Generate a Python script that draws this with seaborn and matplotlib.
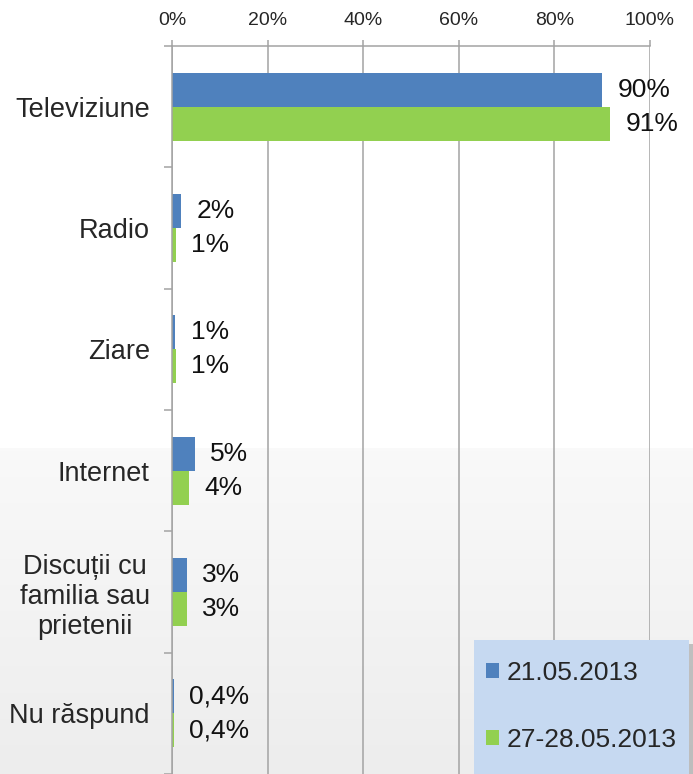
import matplotlib
matplotlib.use("Agg")
import numpy as np
import pandas as pd
import matplotlib.pyplot as plt
import seaborn as sns
from matplotlib.colors import LinearSegmentedColormap
from matplotlib.patches import Rectangle

# values (percent)
categories = ["Televiziune", "Radio", "Ziare", "Internet",
              "Discuții cu\nfamilia sau\nprietenii", "Nu răspund"]
series = ["21.05.2013", "27-28.05.2013"]
val_21 = [90, 1.9, 0.7, 4.8, 3.1, 0.4]
val_27 = [91.7, 0.8, 0.8, 3.6, 3.1, 0.4]
lab_21 = ["90%", "2%", "1%", "5%", "3%", "0,4%"]
lab_27 = ["91%", "1%", "1%", "4%", "3%", "0,4%"]
colors = ["#4F81BD", "#92D050"]
xticks = [0, 20, 40, 60, 80, 100]

sns.set_theme(style="white")
plt.rcParams['font.family'] = ['Liberation Sans', 'DejaVu Sans']

df = pd.DataFrame({
    "categorie": categories * 2,
    "serie": [s for s in series for _ in categories],
    "valoare": val_21 + val_27,
})

W, H = 693, 774
fig = plt.figure(figsize=(W / 100, H / 100), dpi=100)
fig.patch.set_facecolor("white")

# light grey gradient in the lower part of the slide
bg = fig.add_axes([0, 0, 1, 326 / H], zorder=0)
grad = np.linspace(0, 1, 100).reshape(-1, 1)
cmap = LinearSegmentedColormap.from_list("bg", ["#EDEDED", "#F9F9F9"])
bg.imshow(grad, aspect="auto", cmap=cmap, origin="lower", extent=[0, 1, 0, 1])
bg.axis("off")

ax = fig.add_axes([172 / W, 0, 478 / W, 1 - 46 / H], zorder=1)
ax.patch.set_alpha(0)

sns.barplot(data=df, y="categorie", x="valoare", hue="serie", orient="h",
            palette=colors, saturation=1, width=0.56, errorbar=None,
            linewidth=0, ax=ax)

ax.set_xlim(0, 100)
ax.set_ylim(5.5, -0.5)
ax.set_xlabel("")
ax.set_ylabel("")

grid_col = "#A3A3A3"
ax.xaxis.tick_top()
ax.set_xticks(xticks)
ax.set_xticklabels([f"{t}%" for t in xticks])
ax.tick_params(axis="x", which="major", top=True, bottom=False, length=4.5,
               width=1.1, color=grid_col, labelsize=14, pad=8)
ax.grid(axis="x", color=grid_col, linewidth=1.1)
ax.set_axisbelow(True)

ax.set_yticks(range(len(categories)))
ax.set_yticklabels(categories, fontsize=19.5, multialignment="center", linespacing=1.2)
ax.set_yticks(np.arange(-0.5, len(categories), 1), minor=True)
ax.tick_params(axis="y", which="major", left=True, length=0, pad=16)
ax.tick_params(axis="y", which="minor", left=True, length=6, width=1.1, color=grid_col)

for side in ["right", "bottom"]:
    ax.spines[side].set_visible(False)
for side in ["top", "left"]:
    ax.spines[side].set_color(grid_col)
    ax.spines[side].set_linewidth(1.1)

for cont, labs in zip(ax.containers, [lab_21, lab_27]):
    ax.bar_label(cont, labels=labs, padding=11, fontsize=19, color="#111111")

# legend box with a soft shadow on the right, running off the bottom edge
fig.patches.append(Rectangle((478 / W, 0), 215 / W, 1 - 644 / H, transform=fig.transFigure,
                             facecolor="#9E9E9E", alpha=0.6, edgecolor="none", zorder=2))
fig.patches.append(Rectangle((474 / W, 0), 215 / W, 1 - 640 / H, transform=fig.transFigure,
                             facecolor="#C6D9F1", edgecolor="none", zorder=2))

handles, labels = ax.get_legend_handles_labels()
ax.get_legend().remove()
for h in handles:
    h.set_edgecolor("none")
leg = fig.legend(handles, labels, loc="upper left",
                 bbox_to_anchor=(486 / W, 1 - 661 / H), bbox_transform=fig.transFigure,
                 fontsize=19, handlelength=0.5, handleheight=0.5, handletextpad=0.3,
                 labelspacing=1.62, borderpad=0, borderaxespad=0, frameon=False)
leg.set_zorder(5)

fig.savefig("out.png", dpi=100)
